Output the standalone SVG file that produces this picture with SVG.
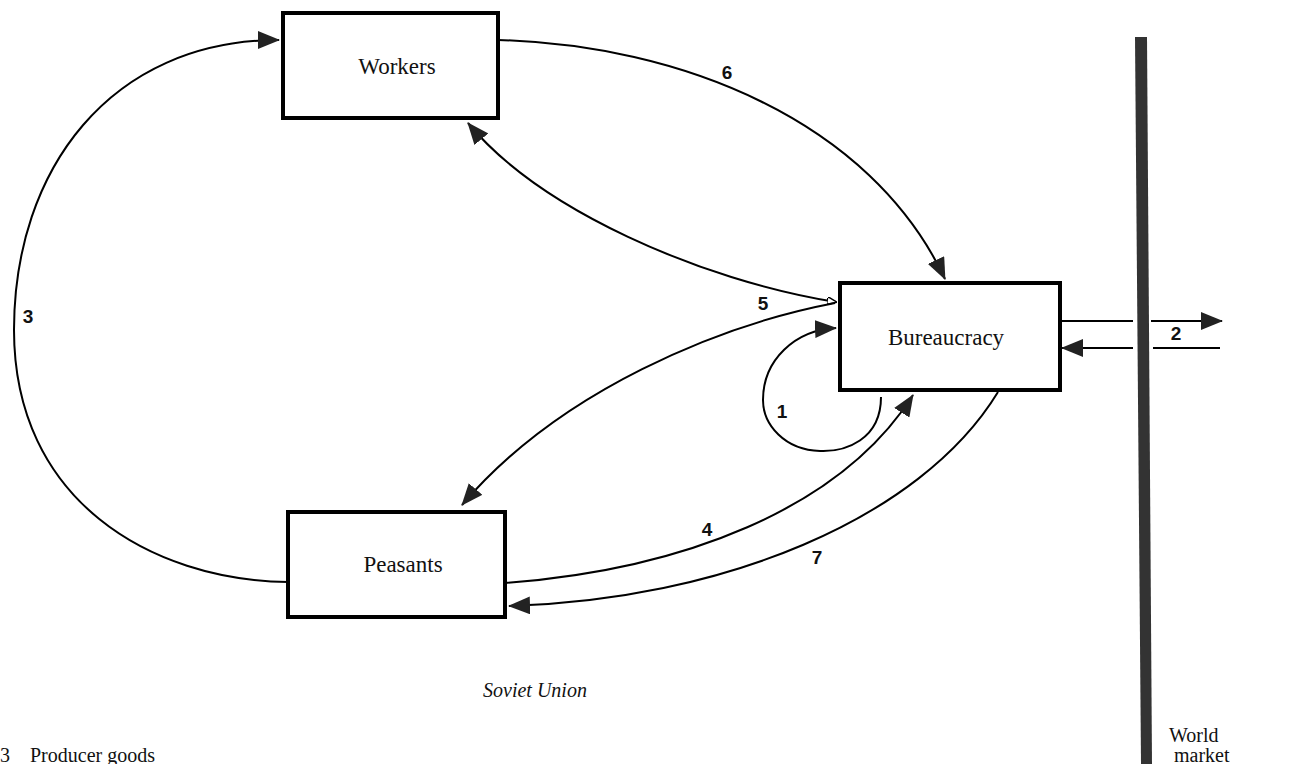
<svg xmlns="http://www.w3.org/2000/svg" width="1297" height="764" viewBox="0 0 1297 764">
<style>
.box{fill:#fff;stroke:#000;stroke-width:4}
.lbl{font-family:"Liberation Serif",serif;font-size:23px;fill:#111;text-anchor:middle}
.num{font-family:"Liberation Sans",Arial,sans-serif;font-weight:bold;font-size:19px;fill:#111;text-anchor:middle}
.edge{fill:none;stroke:#000;stroke-width:2}
.it{font-family:"Liberation Serif",serif;font-style:italic;font-size:20px;fill:#111;text-anchor:middle}
.plain{font-family:"Liberation Serif",serif;font-size:20px;fill:#111}
</style>
<defs>
<marker id="ah" viewBox="0 0 22 18" refX="21" refY="9" markerWidth="22" markerHeight="18" markerUnits="userSpaceOnUse" orient="auto-start-reverse">
<path d="M0,0 L22,9 L0,18 Z" fill="#222"/>
</marker>
<marker id="ahs" viewBox="0 0 10 8" refX="9" refY="4" markerWidth="10" markerHeight="8" markerUnits="userSpaceOnUse" orient="auto-start-reverse">
<path d="M0,0 L10,4 L0,8 Z" fill="#fff" stroke="#000" stroke-width="1.5"/>
</marker>
</defs>
<rect width="1297" height="764" fill="#fff"/>

<g id="world-barrier">
<polygon points="1135,37 1147,37 1152,764 1141,764" fill="#333"/>
</g>

<g id="connectors">
<!-- 3 -->
<path class="edge" d="M 288,582 C 150,580 14,500 14,330 C 14,170 110,40 279,40" marker-end="url(#ah)"/>
<!-- 6 -->
<path class="edge" d="M 498,40 C 680,45 870,120 945,279" marker-end="url(#ah)"/>
<!-- 5 upper -->
<path class="edge" d="M 836,302 C 700,280 540,210 468,123" marker-start="url(#ahs)" marker-end="url(#ah)"/>
<!-- 5 lower -->
<path class="edge" d="M 835,303 C 720,325 560,390 462,505" marker-end="url(#ah)"/>
<!-- 1 -->
<path class="edge" d="M 881,397 C 881,440 845,452 820,451 C 785,450 763,425 763,400 C 763,360 795,330 836,328" marker-end="url(#ah)"/>
<!-- 4 -->
<path class="edge" d="M 505,583 C 680,570 840,510 913,395" marker-end="url(#ah)"/>
<!-- 7 -->
<path class="edge" d="M 998,392 C 920,520 720,600 509,606" marker-end="url(#ah)"/>
<!-- 2 -->
<line class="edge" x1="1062" y1="321" x2="1133" y2="321"/>
<line class="edge" x1="1151" y1="321" x2="1222" y2="321" marker-end="url(#ah)"/>
<line class="edge" x1="1220" y1="348" x2="1153" y2="348"/>
<line class="edge" x1="1133" y1="348" x2="1062" y2="348" marker-end="url(#ah)"/>
</g>

<g id="node-workers">
<rect class="box" x="283" y="13" width="215" height="105"/>
<text class="lbl" x="397" y="74">Workers</text>
</g>
<g id="node-bureaucracy">
<rect class="box" x="840" y="283" width="220" height="107"/>
<text class="lbl" x="946" y="345">Bureaucracy</text>
</g>
<g id="node-peasants">
<rect class="box" x="288" y="512" width="217" height="105"/>
<text class="lbl" x="403" y="572">Peasants</text>
</g>

<g id="labels">
<text class="num" x="28" y="323">3</text>
<text class="num" x="727" y="79">6</text>
<text class="num" x="763" y="310">5</text>
<text class="num" x="782" y="418">1</text>
<text class="num" x="707" y="536">4</text>
<text class="num" x="817" y="564">7</text>
<text class="num" x="1176" y="340">2</text>
<text class="it" x="535" y="697">Soviet Union</text>
<text class="plain" x="1169" y="742">World</text>
<text class="plain" x="1174" y="762">market</text>
<text class="plain" x="0" y="762">3</text>
<text class="plain" x="30" y="762">Producer goods</text>
</g>
</svg>
